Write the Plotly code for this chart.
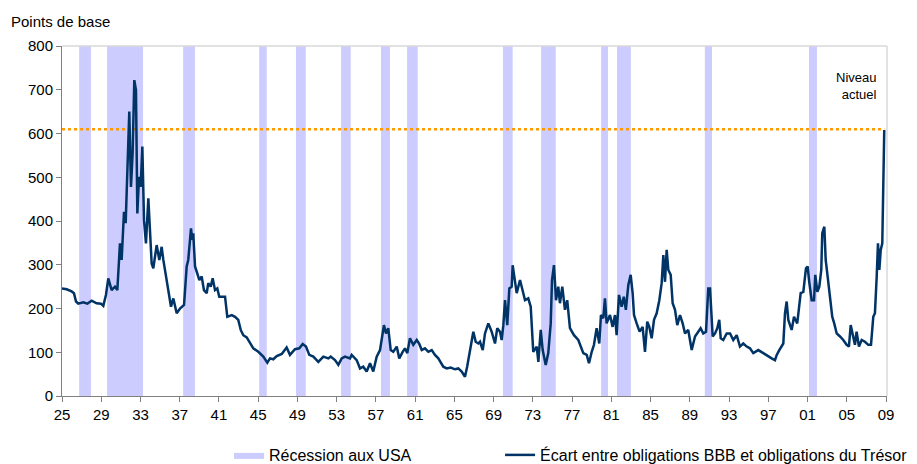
import plotly.graph_objects as go

# ---- data ----
YEARS = [1925.0, 1925.48, 1925.98, 1926.22, 1926.43, 1926.66, 1927.17, 1927.58, 1928.02, 1928.53,
         1928.97, 1929.21, 1929.48, 1929.72, 1930.06, 1930.4, 1930.64, 1930.91, 1931.08, 1931.32,
         1931.49, 1931.7, 1931.86, 1932.03, 1932.2, 1932.37, 1932.54, 1932.68, 1932.85, 1933.02,
         1933.19, 1933.36, 1933.56, 1933.8, 1933.97, 1934.14, 1934.31, 1934.65, 1934.92, 1935.16,
         1935.33, 1935.6, 1935.84, 1936.11, 1936.35, 1936.69, 1937.03, 1937.44, 1937.71, 1937.87,
         1938.15, 1938.28, 1938.38, 1938.56, 1938.79, 1939.0, 1939.24, 1939.47, 1939.75, 1939.91,
         1940.16, 1940.36, 1940.6, 1940.83, 1941.03, 1941.62, 1941.85, 1942.3, 1942.64, 1942.97,
         1943.22, 1943.48, 1943.83, 1944.16, 1944.5, 1945.01, 1945.52, 1945.93, 1946.2, 1946.54,
         1946.89, 1947.4, 1947.9, 1948.24, 1948.75, 1949.19, 1949.54, 1949.87, 1950.21, 1950.62,
         1951.13, 1951.64, 1952.15, 1952.39, 1952.83, 1953.17, 1953.51, 1953.85, 1954.36, 1954.53,
         1955.04, 1955.38, 1955.71, 1956.06, 1956.4, 1956.73, 1957.08, 1957.42, 1957.59, 1957.82,
         1958.03, 1958.26, 1958.51, 1958.77, 1959.12, 1959.38, 1959.73, 1959.96, 1960.2, 1960.47,
         1960.81, 1961.16, 1961.42, 1961.67, 1962.0, 1962.34, 1962.69, 1963.02, 1963.36, 1963.87,
         1964.22, 1964.62, 1965.06, 1965.4, 1965.74, 1966.08, 1966.3, 1966.5, 1966.7, 1966.93,
         1967.17, 1967.44, 1967.61, 1967.89, 1968.12, 1968.46, 1968.8, 1969.14, 1969.37, 1969.65,
         1969.82, 1969.99, 1970.16, 1970.39, 1970.6, 1970.84, 1970.94, 1971.18, 1971.35, 1971.69,
         1971.96, 1972.2, 1972.53, 1972.78, 1973.04, 1973.39, 1973.56, 1973.8, 1974.0, 1974.31,
         1974.57, 1974.82, 1974.95, 1975.15, 1975.36, 1975.59, 1975.76, 1976.0, 1976.27, 1976.5,
         1976.78, 1977.19, 1977.63, 1978.14, 1978.49, 1978.72, 1979.0, 1979.23, 1979.5, 1979.77,
         1979.94, 1980.18, 1980.35, 1980.52, 1980.86, 1981.13, 1981.37, 1981.54, 1981.78, 1982.05,
         1982.27, 1982.48, 1982.73, 1982.97, 1983.17, 1983.31, 1983.58, 1983.88, 1984.19, 1984.43,
         1984.66, 1984.87, 1985.11, 1985.35, 1985.62, 1985.89, 1986.13, 1986.3, 1986.47, 1986.64,
         1986.81, 1987.05, 1987.25, 1987.49, 1987.72, 1988.0, 1988.27, 1988.51, 1988.84, 1989.19,
         1989.53, 1989.86, 1990.1, 1990.37, 1990.65, 1990.88, 1991.06, 1991.33, 1991.57, 1991.8,
         1992.0, 1992.15, 1992.41, 1992.76, 1993.1, 1993.43, 1993.78, 1994.11, 1994.45, 1994.8,
         1995.13, 1995.47, 1995.98, 1996.49, 1997.0, 1997.34, 1997.68, 1997.86, 1998.12, 1998.36,
         1998.53, 1998.7, 1998.87, 1999.04, 1999.38, 1999.62, 1999.95, 2000.3, 2000.57, 2000.84,
         2001.01, 2001.17, 2001.42, 2001.66, 2001.79, 2002.0, 2002.2, 2002.4, 2002.5, 2002.71,
         2002.85, 2003.05, 2003.29, 2003.52, 2003.72, 2003.97, 2004.31, 2004.64, 2004.99, 2005.22,
         2005.4, 2005.6, 2005.83, 2006.0, 2006.24, 2006.52, 2006.85, 2007.19, 2007.47, 2007.7,
         2007.87, 2008.05, 2008.18, 2008.32, 2008.46, 2008.62, 2008.72, 2008.82]

SPREAD_BP = [246, 244, 239, 235, 216, 211, 214, 211, 218, 212,
             211, 206, 231, 269, 242, 250, 242, 349, 311, 421,
             395, 539, 650, 478, 555, 722, 699, 417, 501, 478,
             570, 402, 349, 452, 372, 303, 292, 345, 311, 341,
             311, 273, 235, 204, 223, 189, 200, 208, 296, 311,
             383, 357, 372, 296, 280, 265, 273, 242, 235, 258,
             250, 269, 242, 246, 227, 227, 181, 185, 181, 174,
             151, 139, 134, 120, 109, 101, 90, 76, 86, 84,
             91, 96, 111, 94, 107, 109, 119, 113, 94, 90,
             78, 90, 86, 90, 82, 71, 86, 90, 86, 94,
             82, 63, 67, 56, 75, 56, 90, 105, 132, 162,
             143, 155, 105, 101, 113, 86, 101, 109, 98, 132,
             117, 128, 119, 105, 109, 101, 105, 94, 86, 67,
             63, 65, 61, 63, 56, 44, 67, 90, 120, 147,
             124, 120, 124, 105, 143, 166, 147, 120, 155, 147,
             128, 162, 219, 162, 246, 250, 299, 265, 235, 265,
             238, 219, 223, 204, 101, 113, 78, 151, 105, 71,
             98, 166, 265, 299, 219, 250, 212, 250, 197, 219,
             155, 139, 128, 98, 94, 75, 101, 117, 155, 120,
             185, 178, 223, 166, 185, 158, 185, 139, 231, 204,
             227, 197, 254, 277, 235, 185, 166, 147, 158, 101,
             170, 158, 132, 174, 189, 219, 258, 322, 261, 334,
             288, 277, 212, 197, 162, 185, 166, 143, 151, 105,
             136, 147, 155, 143, 147, 246, 246, 136, 143, 155,
             174, 132, 128, 143, 143, 128, 139, 113, 120, 113,
             109, 98, 105, 98, 90, 86, 82, 94, 105, 113,
             120, 189, 216, 174, 151, 181, 166, 235, 238, 292,
             296, 261, 219, 219, 277, 238, 250, 288, 372, 387,
             311, 273, 227, 181, 166, 143, 136, 128, 117, 113,
             162, 143, 117, 147, 113, 128, 124, 117, 117, 181,
             189, 273, 349, 288, 334, 349, 448, 608]

REC_START = [1926.75, 1929.6, 1937.35, 1945.1, 1948.85, 1953.45, 1957.52, 1960.18,
             1969.95, 1973.84, 1979.96, 1981.58, 1990.53, 2001.15]
REC_END = [1927.95, 1933.26, 1938.55, 1945.87, 1949.85, 1954.43, 1958.43, 1961.26,
           1970.94, 1975.33, 1980.66, 1982.99, 1991.26, 2001.96]

CURRENT_LEVEL = 610
TICK_YEARS = list(range(1925, 2010, 4))
TICK_LABELS = ["25", "29", "33", "37", "41", "45", "49", "53", "57", "61", "65", "69",
               "73", "77", "81", "85", "89", "93", "97", "01", "05", "09"]
Y_MAX = 800

FONT = "Liberation Sans, Arial, sans-serif"

# recession bands as filled polygons
bx, by = [], []
for s, e in zip(REC_START, REC_END):
    bx += [s, s, e, e, s, None]
    by += [0, Y_MAX, Y_MAX, 0, 0, None]

fig = go.Figure()
fig.add_trace(go.Scatter(
    x=bx, y=by, mode="lines", fill="toself", fillcolor="#CCCCFF",
    line=dict(width=0, color="#CCCCFF"), name="Récession aux USA",
    hoverinfo="skip", legend="legend"))
fig.add_trace(go.Scatter(
    x=[YEARS[0], YEARS[-1]], y=[CURRENT_LEVEL, CURRENT_LEVEL], mode="lines",
    line=dict(color="#FF9900", width=2.5, dash="dot"), showlegend=False,
    hoverinfo="skip"))
fig.add_trace(go.Scatter(
    x=YEARS, y=SPREAD_BP, mode="lines",
    line=dict(color="#003366", width=2.5),
    name="Écart entre obligations BBB et obligations du Trésor", legend="legend2"))

legend_common = dict(orientation="h", xanchor="left", yanchor="top", y=-0.12,
                     font=dict(size=16, family=FONT), bgcolor="rgba(0,0,0,0)",
                     itemclick=False, itemdoubleclick=False)

fig.update_layout(
    width=917, height=464,
    margin=dict(l=62, r=30, t=46, b=68, autoexpand=False),
    paper_bgcolor="white", plot_bgcolor="white",
    font=dict(family=FONT, size=15, color="#000000"),
    showlegend=True,
    legend=dict(x=0.2024, **legend_common),
    legend2=dict(x=0.531, **legend_common),
    xaxis=dict(range=[1925, 2009.1], tickmode="array", tickvals=TICK_YEARS,
               ticktext=TICK_LABELS, showgrid=False, zeroline=False,
               showline=True, linecolor="#808080", linewidth=1,
               ticks="outside", ticklen=5, tickcolor="#808080",
               tickfont=dict(size=15)),
    yaxis=dict(range=[0, Y_MAX], dtick=100, showgrid=False, zeroline=False,
               showline=True, linecolor="#808080", linewidth=1,
               ticks="outside", ticklen=5, tickcolor="#808080",
               tickfont=dict(size=15)),
    shapes=[
        dict(type="line", xref="paper", yref="paper", x0=0, x1=1, y0=1, y1=1,
             line=dict(color="#D9D9D9", width=1.5), layer="above"),
        dict(type="line", xref="paper", yref="paper", x0=1, x1=1, y0=0, y1=1,
             line=dict(color="#D9D9D9", width=1.5), layer="above"),
    ],
    annotations=[
        dict(text="Points de base", xref="paper", yref="paper", x=-0.064, y=1.071,
             xanchor="left", yanchor="middle", showarrow=False, font=dict(size=15)),
        dict(text="Niveau<br>actuel", xref="paper", yref="paper", x=0.99, y=0.886,
             xanchor="right", yanchor="middle", align="right", showarrow=False,
             font=dict(size=13)),
    ],
)

fig.write_html("out.html", config={"displayModeBar": False},
               post_script="document.body.style.margin='0';document.body.style.padding='0';")
